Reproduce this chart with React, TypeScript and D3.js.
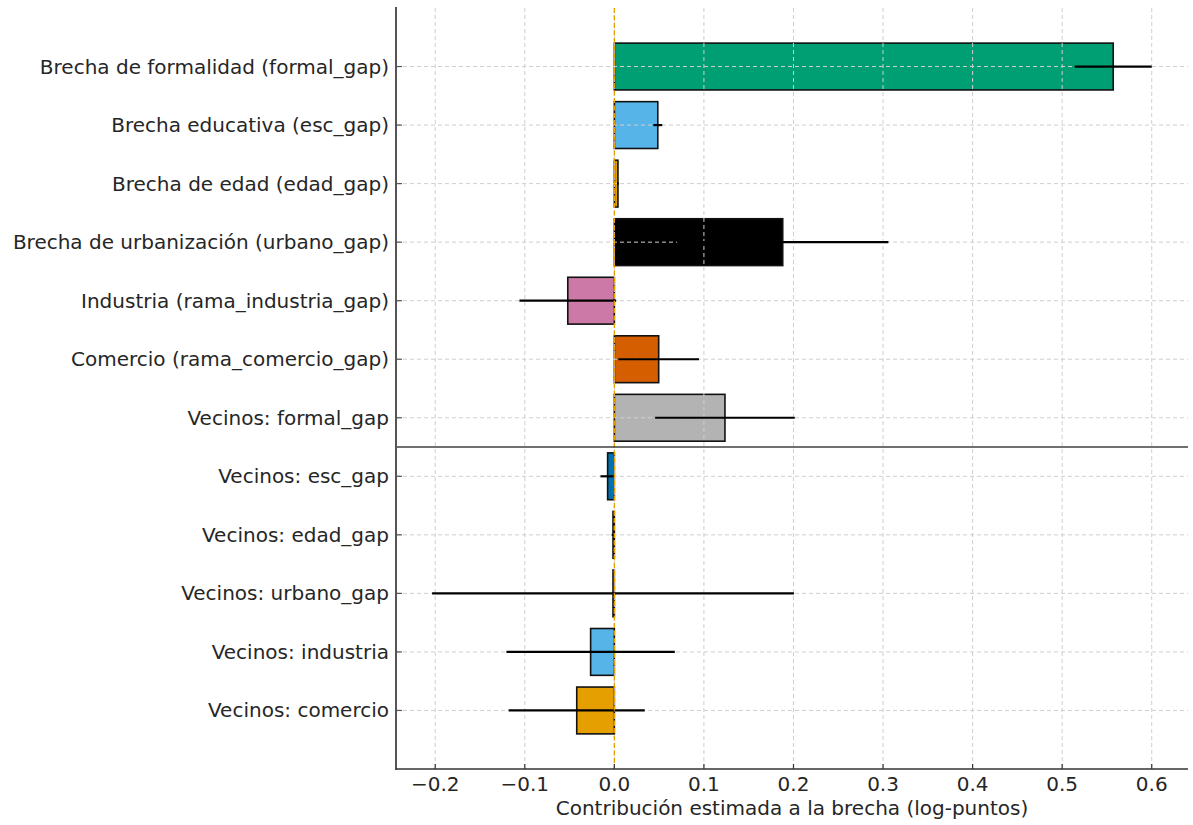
import React from 'react';
import * as d3 from 'd3';

// categories, top to bottom
const categories = [
  'Brecha de formalidad (formal_gap)',
  'Brecha educativa (esc_gap)',
  'Brecha de edad (edad_gap)',
  'Brecha de urbanización (urbano_gap)',
  'Industria (rama_industria_gap)',
  'Comercio (rama_comercio_gap)',
  'Vecinos: formal_gap',
  'Vecinos: esc_gap',
  'Vecinos: edad_gap',
  'Vecinos: urbano_gap',
  'Vecinos: industria',
  'Vecinos: comercio',
];
// estimated contribution
const values = [0.557, 0.0485, 0.004, 0.188, -0.052, 0.0495, 0.1235, -0.0075, -0.0015, -0.0015, -0.0265, -0.042];
// half width of error bar
const errors = [0.043, 0.005, 0.001, 0.118, 0.054, 0.045, 0.078, 0.008, 0.0015, 0.202, 0.094, 0.076];
const colors = ['#009E73', '#56B4E9', '#E69F00', '#000000', '#CC79A7', '#D55E00', '#B3B3B3', '#0072B2', '#F0E442', '#009E73', '#56B4E9', '#E69F00'];
const xTicks = [-0.2, -0.1, 0.0, 0.1, 0.2, 0.3, 0.4, 0.5, 0.6];
const separatorAt = 6.5;
const xLabel = 'Contribución estimada a la brecha (log-puntos)';

const W = 1193;
const H = 825;
const left = 396;
const right = 1188;
const top = 8;
const bottom = 769;
const font = "'DejaVu Sans', sans-serif";
const fontSize = 20;
const textColor = '#262626';

export default function App() {
  const x = d3.scaleLinear().domain([-0.2438, 0.6405]).range([left, right]);
  const y = d3.scaleLinear().domain([-1, categories.length]).range([top, bottom]);
  const bandH = (y(1) - y(0)) * 0.8;
  const fmt = (v: number) => (v < 0 ? '\u2212' : '') + Math.abs(v).toFixed(1);

  return (
    <svg width={W} height={H} style={{ position: 'absolute', left: 0, top: 0, background: '#fff' }}
      fontFamily={font}>
      {/* bars */}
      {values.map((v, i) => (
        <rect key={'b' + i} x={Math.min(x(0), x(v))} y={y(i) - bandH / 2}
          width={Math.abs(x(v) - x(0))} height={bandH}
          fill={colors[i]} stroke="#111" strokeWidth={1.6} />
      ))}
      {/* grid above bars */}
      <g stroke="#cfcfcf" strokeWidth={1} strokeDasharray="4,3">
        {xTicks.map((t) => (
          <line key={'gx' + t} x1={x(t)} x2={x(t)} y1={top} y2={bottom} />
        ))}
        {categories.map((c, i) => (
          <line key={'gy' + i} x1={left} x2={right} y1={y(i)} y2={y(i)} />
        ))}
      </g>
      {/* error bars */}
      {values.map((v, i) => (
        <line key={'e' + i} x1={x(v - errors[i])} x2={x(v + errors[i])} y1={y(i)} y2={y(i)}
          stroke="#000" strokeWidth={2.2} />
      ))}
      {/* zero line */}
      <line x1={x(0)} x2={x(0)} y1={top} y2={bottom} stroke="#E69F00" strokeWidth={1.3} strokeDasharray="5,2.5" />
      {/* separator */}
      <line x1={left} x2={right} y1={y(separatorAt)} y2={y(separatorAt)} stroke="#404040" strokeWidth={1.6} />
      {/* spines */}
      <line x1={left} x2={left} y1={top - 1} y2={bottom + 1} stroke="#555" strokeWidth={2} />
      <line x1={left} x2={right} y1={bottom} y2={bottom} stroke="#333" strokeWidth={1.5} />
      {/* y ticks */}
      {categories.map((c, i) => (
        <g key={'yt' + i}>
          <line x1={left} x2={left + 6} y1={y(i)} y2={y(i)} stroke="#555" strokeWidth={1.2} />
          <text x={left - 7} y={y(i)} dy="0.35em" textAnchor="end" fontSize={fontSize} fill={textColor}>{c}</text>
        </g>
      ))}
      {/* x ticks */}
      {xTicks.map((t) => (
        <g key={'xt' + t}>
          <line x1={x(t)} x2={x(t)} y1={bottom} y2={bottom - 5} stroke="#333" strokeWidth={1.2} />
          <text x={x(t)} y={791} textAnchor="middle" fontSize={fontSize} fill={textColor}>{fmt(t)}</text>
        </g>
      ))}
      <text x={(left + right) / 2} y={815} textAnchor="middle" fontSize={fontSize} fill={textColor}>{xLabel}</text>
    </svg>
  );
}
